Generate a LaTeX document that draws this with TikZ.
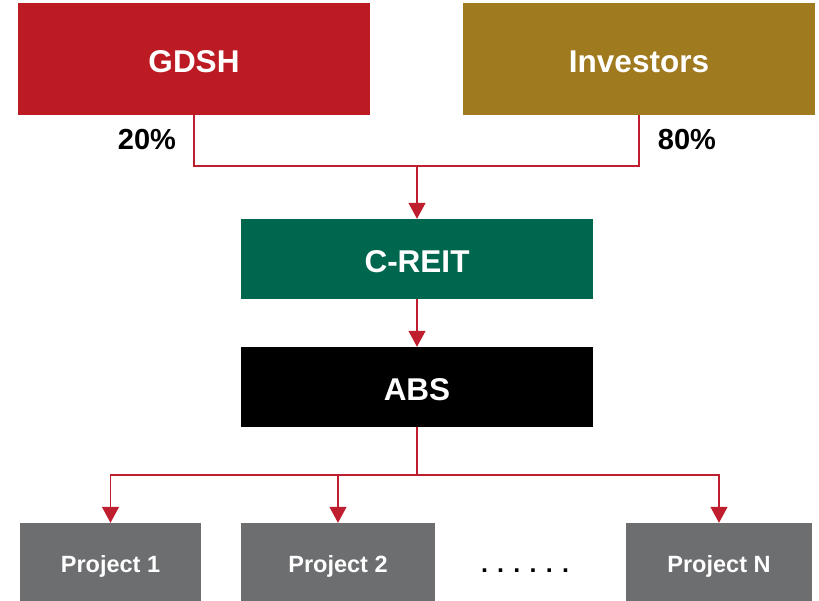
\documentclass[tikz,border=0pt]{standalone}
\usepackage{fontspec}
\setmainfont{Liberation Sans}
\usetikzlibrary{arrows.meta}

\definecolor{gdshred}{HTML}{BD1B23}
\definecolor{invgold}{HTML}{A07A1F}
\definecolor{reitgreen}{HTML}{00674F}
\definecolor{projgray}{HTML}{6D6E70}
\definecolor{linkred}{HTML}{BE1E2D}

\begin{document}
\begin{tikzpicture}[x=1pt, y=-1pt,
    box/.style={inner sep=0pt, text=white, text height=26pt, text depth=0pt, font=\bfseries\fontsize{31.5}{34}\selectfont},
    projbox/.style={box, fill=projgray, minimum height=80pt, text height=19pt, font=\bfseries\fontsize{23.5}{26}\selectfont},
    pct/.style={font=\bfseries\fontsize{29}{32}\selectfont},
    link/.style={draw=linkred, line width=1.3pt},
    arr/.style={link, -{Triangle[width=17pt, length=16pt]}}]
    \useasboundingbox (0, 0) rectangle (819, 600);

    % Owners
    \node[box, fill=gdshred, minimum width=352pt, minimum height=112pt] (gdsh) at (194, 59) {GDSH};
    \node[box, fill=invgold, minimum width=352pt, minimum height=112pt] (inv) at (639, 59) {Investors};
    \node[pct] (pctg) at (147, 140) {20\%};
    \node[pct] (pcti) at (687, 140) {80\%};

    % Vehicles
    \node[box, fill=reitgreen, minimum width=352pt, minimum height=80pt] (creit) at (417, 259) {C-REIT};
    \node[box, fill=black, minimum width=352pt, minimum height=80pt] (abs) at (417, 387) {ABS};

    % Projects
    \node[projbox, minimum width=181pt] (p1) at (110.5, 563) {Project 1};
    \node[projbox, minimum width=194pt] (p2) at (338, 563) {Project 2};
    \node[projbox, minimum width=186pt] (pn) at (719, 563) {Project N};
    \node[anchor=base, font=\bfseries\fontsize{25}{28}\selectfont] (dots) at (525, 572) {. . . . . .};

    % Links
    \coordinate (join) at (417, 166);
    \coordinate (branch) at (417, 475);
    \draw[link] (gdsh.south) |- (join);
    \draw[link] (inv.south) |- (join);
    \draw[arr] (join) -- (creit.north);
    \draw[arr] (creit.south) -- (abs.north);
    \draw[link] (abs.south) -- (branch);
    \draw[arr] (branch) -| (p1.north);
    \draw[arr] (branch) -| (p2.north);
    \draw[arr] (branch) -| (pn.north);
\end{tikzpicture}
\end{document}
